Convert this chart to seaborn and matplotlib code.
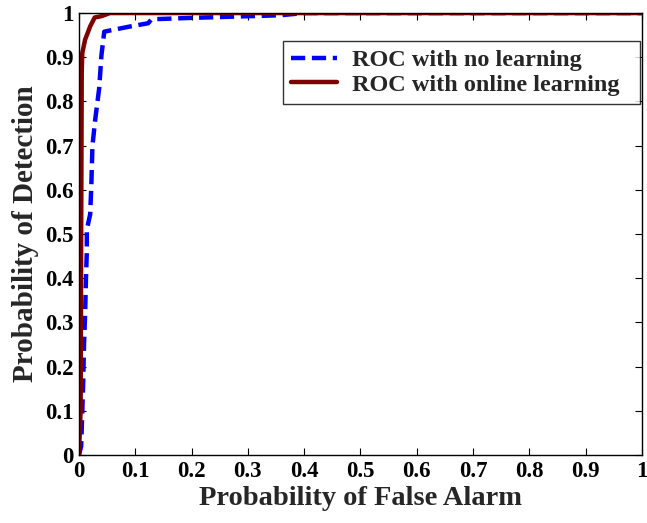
import numpy as np
import pandas as pd
import seaborn as sns
import matplotlib
matplotlib.use("Agg")
import matplotlib.pyplot as plt

# ROC with no learning
pfa_no = [0.0, 0.004, 0.006, 0.0077, 0.009, 0.011, 0.0125, 0.014, 0.014, 0.020, 0.022,
          0.024, 0.029, 0.036, 0.040, 0.045, 0.088, 0.123, 0.129, 0.197, 0.357, 0.40, 1.0]
pd_no = [0.0, 0.02, 0.10, 0.17, 0.25, 0.32, 0.40, 0.46, 0.51, 0.545, 0.61,
         0.70, 0.76, 0.83, 0.905, 0.958, 0.969, 0.977, 0.986, 0.989, 0.995, 1.0, 1.0]

# ROC with online learning
pfa_on = [0.0, 0.003, 0.004, 0.005, 0.006, 0.011, 0.020, 0.028, 0.040, 0.055, 1.0]
pd_on = [0.0, 0.10, 0.50, 0.87, 0.91, 0.94, 0.97, 0.99, 0.993, 1.0, 1.0]

labels = ["ROC with no learning", "ROC with online learning"]
xticks = [0, 0.1, 0.2, 0.3, 0.4, 0.5, 0.6, 0.7, 0.8, 0.9, 1]
yticks = [0, 0.1, 0.2, 0.3, 0.4, 0.5, 0.6, 0.7, 0.8, 0.9, 1]
tick_labels = ["0", "0.1", "0.2", "0.3", "0.4", "0.5", "0.6", "0.7", "0.8", "0.9", "1"]

sns.set_style("ticks")
plt.rcParams['font.family'] = ['Liberation Serif', 'DejaVu Serif']
plt.rcParams['font.weight'] = 'bold'

fig = plt.figure(figsize=(6.47, 5.23), dpi=100)
ax = fig.add_axes([0.122, 0.130, 0.870, 0.845])

df_no = pd.DataFrame({"x": pfa_no, "y": pd_no})
df_on = pd.DataFrame({"x": pfa_on, "y": pd_on})

sns.lineplot(data=df_no, x="x", y="y", ax=ax, sort=False, estimator=None,
             color="#0000FF", linewidth=3.2, label=labels[0])
ax.lines[-1].set_dashes([3.2, 1.5])
sns.lineplot(data=df_on, x="x", y="y", ax=ax, sort=False, estimator=None,
             color="#800000", linewidth=3.2, label=labels[1])

ax.set_xlim(0, 1)
ax.set_ylim(0, 1)
ax.set_xticks(xticks)
ax.set_yticks(yticks)
ax.set_xticklabels(tick_labels, fontsize=16.5, fontweight='bold')
ax.set_yticklabels(tick_labels, fontsize=16.5, fontweight='bold')
ax.tick_params(direction='in', length=5, width=0.8, top=True, right=True, pad=4, colors='black')
for s in ax.spines.values():
    s.set_visible(True)
    s.set_linewidth(1.0)
    s.set_color('black')

ax.set_xlabel("Probability of False Alarm", fontsize=20.5, fontweight='bold', labelpad=3)
ax.set_ylabel("Probability of Detection", fontsize=21, fontweight='bold', labelpad=4.5)

leg = ax.legend(loc='upper left', bbox_to_anchor=(0.362, 0.794, 0.634, 0.143), mode='expand',
                fontsize=17.5, frameon=True, fancybox=False, handlelength=1.9,
                borderpad=0.35, labelspacing=0.1, handletextpad=0.6, borderaxespad=0)
leg.get_frame().set_edgecolor('black')
leg.get_frame().set_linewidth(1.0)
for t in leg.get_texts():
    t.set_fontweight('bold')

fig.savefig("out.png", dpi=100)
